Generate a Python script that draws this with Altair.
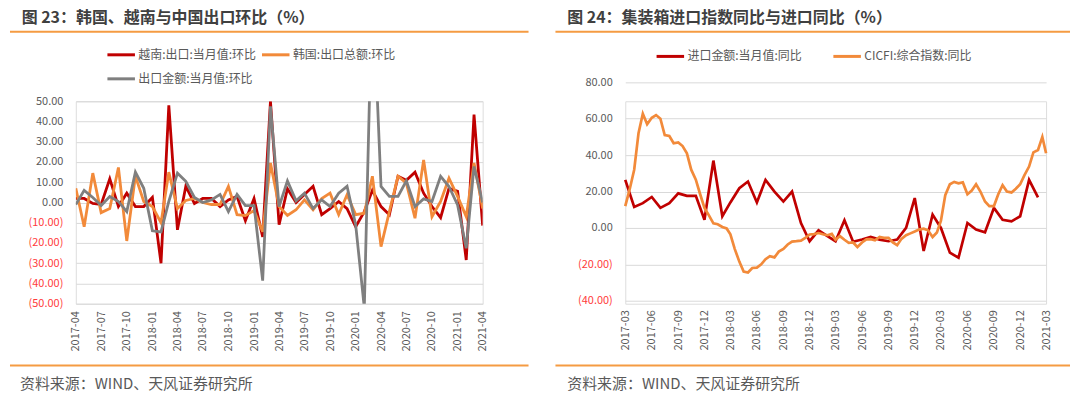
import altair as alt
import pandas as pd

FONT = "Noto Sans CJK SC"

# ---------------- 图23 data (monthly MoM %, 2017-04 .. 2021-04) ----------------
months_23 = pd.date_range("2017-04-01", "2021-04-01", freq="MS")
vietnam_mom = [2, 2, -0.5, -1, 11.7, -2, 4.6, -2, -2, 2.5,
               -30, 48, -13.5, 8, -0.5, 2, 2, -2, 1.3, 3,
               -9, 2, -17, 50, -11, 6.8, 0, 4, 8, -6,
               -3, 0.5, -3, -12, -4.5, 6, -2, -6, 13, 11,
               15, 4.6, -2, -7.5, 7, 5.5, -28.4, 43.4, -11.4]
korea_mom = [7, -12, 14.5, -5, -3, 17.3, -19, 13, 0.5, -2,
             -10, 15, -3, 1, 2, 0, -1, -1, 8, -6,
             -6.5, -4, -14.5, 19.5, -2, -6.4, -3.6, 1.3, -3.6, 2,
             4.6, -6, 3.8, -6, -5.3, 13, -21.8, -4.5, 13, 9.6,
             -7.8, 21, -7, 0.5, 12, 3, -7, 19.5, -3]
china_mom = [-1, 6, 2.5, -1.5, 3, 0.5, -4.5, 15, 7, -14,
             -14.5, 0.5, 14.5, 10.5, 2.5, 0, 1.3, 4, -4.5, 4,
             -1.5, -1.5, -38.6, 47.5, -2, 10.7, 0.8, 4.6, -3, 1.3,
             -2, 4.6, 8, -11, -52, 110, 7.9, 3, 3, 10.7,
             -2, 1.8, 0.5, 12.9, 7.9, -1.2, -22.6, 17.8, 0]
names_23 = ["越南:出口:当月值:环比", "韩国:出口总额:环比", "出口金额:当月值:环比"]
colors_23 = ["#C00000", "#F28A3A", "#7F7F7F"]

# ---------------- 图24 data (YoY %) ----------------
months_24 = pd.date_range("2017-03-01", "2021-02-01", freq="MS")
import_yoy = [26.4, 11.5, 13.6, 17, 11, 13.6, 19, 17.6, 17.6, 4.5,
              37, 6.4, 14, 21.8, 25.5, 14, 26.4, 20, 14.5, 20,
              2.7, -7.3, -1.3, -4.5, -7.3, 4.2, -7.6, -6.4, -5, -6.4,
              -7.3, -6.4, 0, 16.4, -12.7, 7.3, 0, -13.6, -16.4, 2.7,
              -0.9, -2.4, 11, 4.5, 3.6, 6.4, 26.4, 16.8]
half_months_24 = [d for m in pd.date_range("2017-03-01", "2021-03-01", freq="MS")
                  for d in (m, m + pd.Timedelta(days=15))][:97]
cicfi_yoy = [12, 21, 32, 52, 62.8, 57, 60.5, 62, 60, 51,
             50.5, 46.5, 47, 45, 41, 32, 26.5, 18.5, 11, 7,
             2.5, 2, 0.5, -0.3, -3.5, -11.5, -18.5, -24, -24.5, -22,
             -21.8, -20, -17.2, -15.5, -16.2, -13, -11.5, -9.1, -7.5, -7.3,
             -7, -5.5, -3.6, -3.4, -2.8, -3.5, -4, -3.3, -6.5, -4.5,
             -6.5, -8.2, -8, -10.5, -8, -6.3, -6.2, -6.8, -5, -5.5,
             -5.5, -8, -9.5, -6, -4, -3, -2, -0.9, -0.4, -1.3,
             -5, -2.5, 4, 18, 24, 25.3, 24.5, 25, 18.5, 20.5,
             24, 20, 14.5, 12, 12, 18.5, 23.5, 20, 19.5, 21.5,
             24, 29, 33.7, 41.5, 42.8, 50, 41]
names_24 = ["进口金额:当月值:同比", "CICFI:综合指数:同比"]
colors_24 = ["#C00000", "#F28A3A"]

TITLE_23 = "图 23：韩国、越南与中国出口环比（%）"
TITLE_24 = "图 24：集装箱进口指数同比与进口同比（%）"
SOURCE = "资料来源：WIND、天风证券研究所"

RULE_COLOR = "#F59B42"
TEXT_DARK = "#404040"
TEXT_GRAY = "#595959"

one = pd.DataFrame({"k": [0]})


def dt(d):
    return alt.DateTime(year=int(d.year), month=int(d.month), date=int(d.day))


def y_axis(vals):
    return alt.Axis(
        values=vals, title=None, grid=True, gridColor="#D9D9D9", gridWidth=1,
        domain=False, ticks=False, labelPadding=13, labelFont=FONT, labelFontSize=11,
        labelExpr="datum.value < 0 ? '(' + format(-datum.value, '.2f') + ')' : format(datum.value, '.2f')",
        labelColor={"condition": {"test": "datum.value < 0", "value": "#FF3B3B"}, "value": TEXT_GRAY},
    )


def x_axis(ticks, pad):
    return alt.Axis(
        values=[dt(t) for t in ticks], format="%Y-%m", labelAngle=270, title=None,
        grid=False, domain=False, ticks=False, labelPadding=pad, labelFont=FONT,
        labelFontSize=11, labelColor=TEXT_GRAY, labelOverlap=False, labelFlush=False,
        labelBound=False,
    )


def text_at(x, y, s, size, color, bold=False):
    return alt.Chart(one).mark_text(
        align="left", baseline="middle", font=FONT, fontSize=size, color=color,
        fontWeight="bold" if bold else "normal",
    ).encode(x=alt.value(x), y=alt.value(y), text=alt.value(s))


def hrule(x1, x2, y, color, w, opacity=1):
    return alt.Chart(one).mark_rule(color=color, strokeWidth=w, strokeOpacity=opacity).encode(
        x=alt.value(x1), x2=alt.value(x2), y=alt.value(y))


def legend_item(x0, y, color, label):
    return [hrule(x0, x0 + 27.6, y, color, 3), text_at(x0 + 31, y, label, 12, TEXT_GRAY)]


# Both panels share the same view origin (page y = 100); everything is placed relative to it.
H = 203  # view height (left plot area 100 -> 303)

# ---------------- left panel ----------------
df23 = pd.DataFrame({
    "date": list(months_23) * 3,
    "series": [names_23[0]] * 49 + [names_23[1]] * 49 + [names_23[2]] * 49,
    "value": vietnam_mom + korea_mom + china_mom,
})
ticks_23 = pd.date_range("2017-04-01", "2021-04-01", freq="3MS")
xs23 = alt.X("date:T", scale=alt.Scale(domain=[dt(months_23[0]), dt(months_23[-1])], nice=False),
             axis=x_axis(ticks_23, 7))
ys23 = alt.Y("value:Q", scale=alt.Scale(domain=[-50, 50], nice=False), axis=y_axis(list(range(-50, 51, 10))))
col23 = alt.Color("series:N", scale=alt.Scale(domain=names_23, range=colors_23), legend=None)

lines23 = [
    alt.Chart(df23).transform_filter(alt.datum.series == n)
    .mark_line(strokeWidth=2.8, clip=True)
    .encode(x=xs23, y=ys23, color=col23)
    for n in names_23
]
W1 = 408
decor23 = [
    hrule(-60, 0, -91.5, "white", 1, 0),
    text_at(-54.3, -83.8, TITLE_23, 16, TEXT_DARK, bold=True),
    hrule(-66, 454, -69.7, RULE_COLOR, 2),
    *legend_item(31.7, -46.6, colors_23[0], names_23[0]),
    *legend_item(186.7, -46.6, colors_23[1], names_23[1]),
    *legend_item(31.7, -22.5, colors_23[2], names_23[2]),
    hrule(-66, 454, 265, RULE_COLOR, 2),
    text_at(-56, 283.2, SOURCE, 15, TEXT_GRAY),
]
left = alt.layer(*lines23, *decor23).properties(width=W1, height=H)

# ---------------- right panel ----------------
df24 = pd.DataFrame({
    "date": list(months_24) + list(half_months_24),
    "series": [names_24[0]] * len(import_yoy) + [names_24[1]] * len(cicfi_yoy),
    "value": import_yoy + cicfi_yoy,
})
m24_start, m24_end = pd.Timestamp("2017-03-01"), pd.Timestamp("2021-03-01")
ticks_24 = pd.date_range(m24_start, m24_end, freq="3MS")
xs24 = alt.X("date:T", scale=alt.Scale(domain=[dt(m24_start), dt(m24_end)], nice=False),
             axis=x_axis(ticks_24, 6))
# plot area of this panel runs from page y 81 to 300, i.e. -19 .. 200 relative to the shared origin
ys24 = alt.Y("value:Q", scale=alt.Scale(domain=[-40, 80], nice=False, range=[200, -19]),
             axis=y_axis(list(range(-40, 81, 20))))
col24 = alt.Color("series:N", scale=alt.Scale(domain=names_24, range=colors_24), legend=None)
lines24 = [
    alt.Chart(df24).transform_filter(alt.datum.series == n)
    .mark_line(strokeWidth=2.7)
    .encode(x=xs24, y=ys24, color=col24)
    for n in names_24
]
W2 = 422
decor24 = [
    hrule(-60, 0, -91.5, "white", 1, 0),
    text_at(-58.2, -83.8, TITLE_24, 16, TEXT_DARK, bold=True),
    hrule(-70, 446, -69.7, RULE_COLOR, 2),
    *legend_item(31.4, -45, colors_24[0], names_24[0]),
    *legend_item(208.7, -45, colors_24[1], names_24[1]),
    hrule(-70, 446, 265, RULE_COLOR, 2),
    text_at(-58.2, 283.2, SOURCE, 15, TEXT_GRAY),
]
right = alt.layer(*lines24, *decor24).properties(width=W2, height=H)

chart = (
    alt.hconcat(left, right, spacing=23, padding=0)
    .resolve_scale(color="independent")
    .configure_view(stroke=None)
    .configure(background="white")
)

chart.save("out.html", embed_options={"renderer": "svg", "actions": False})
